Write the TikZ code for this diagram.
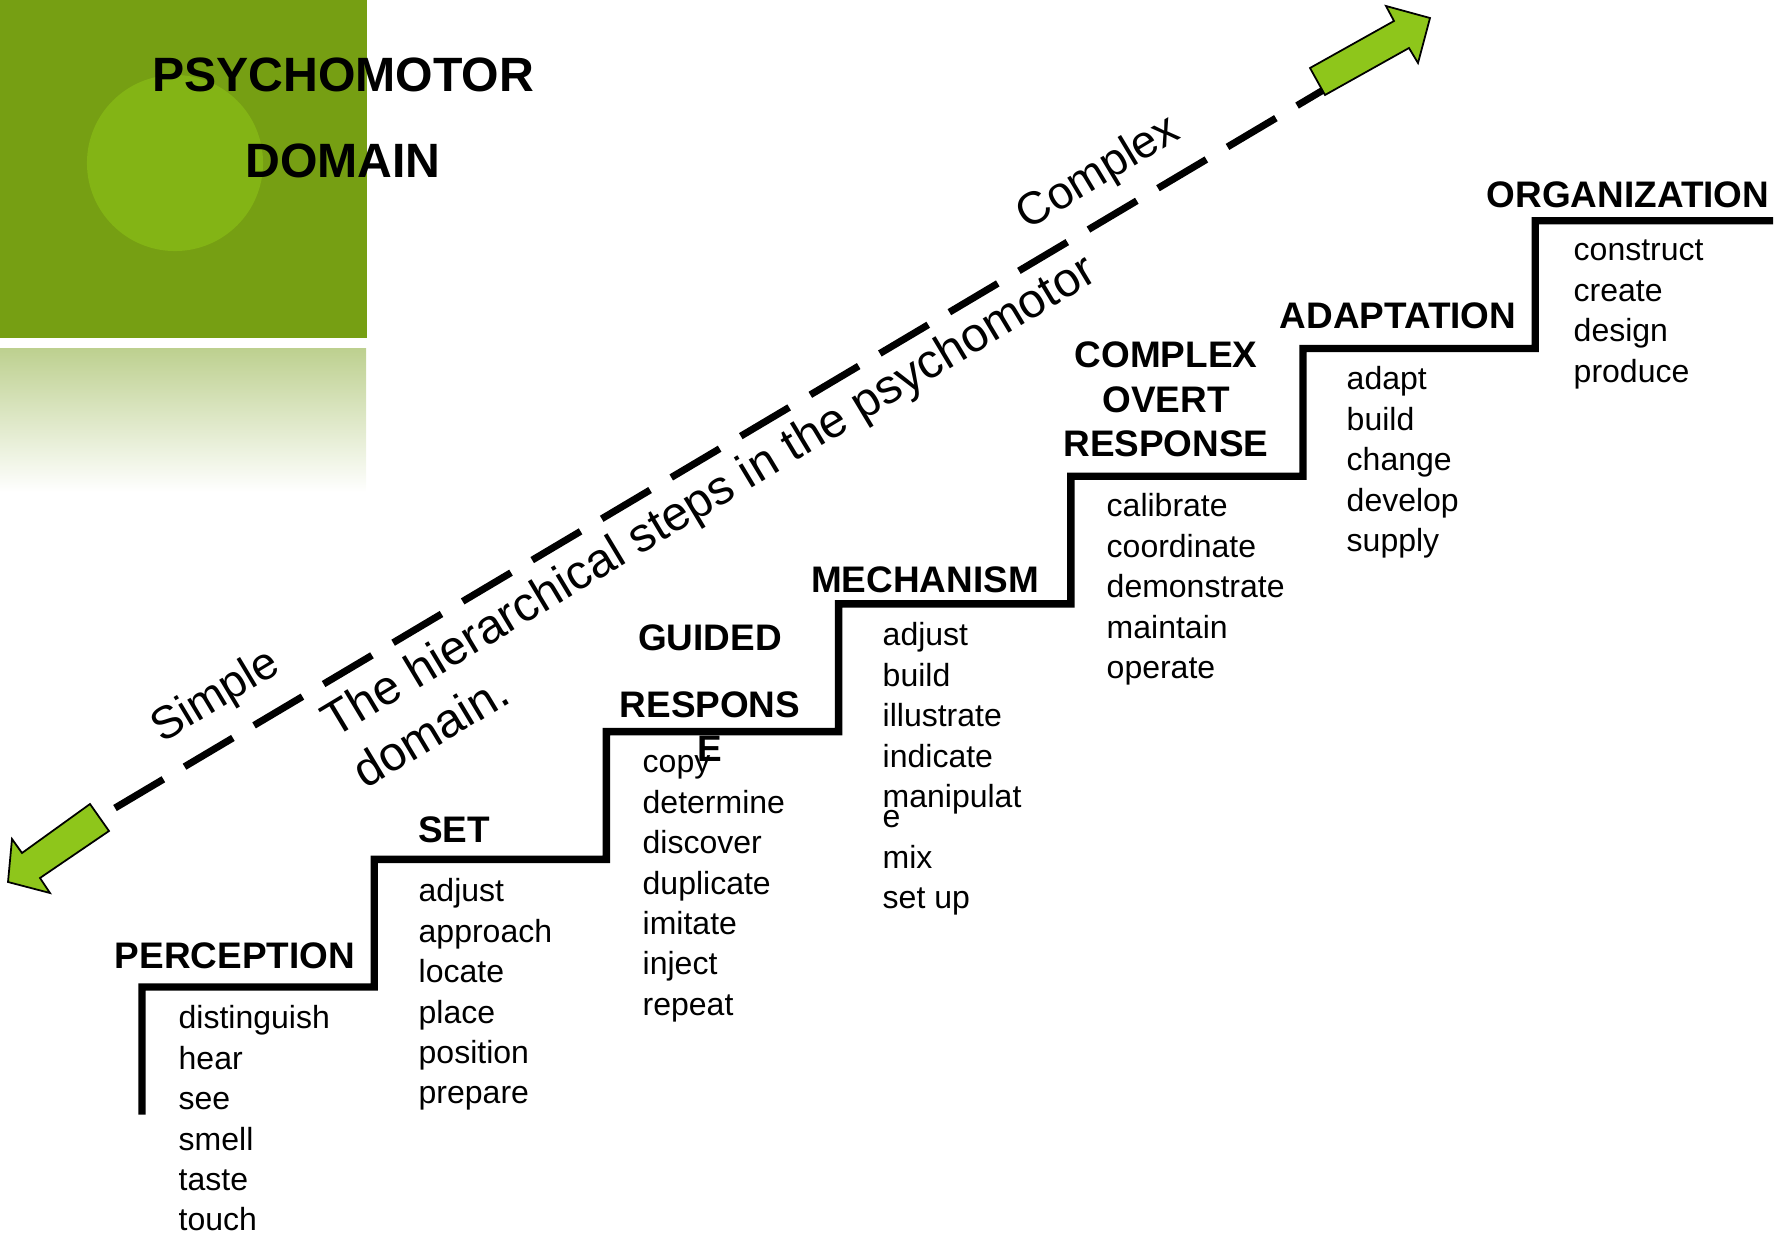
\documentclass[tikz,border=0pt]{standalone}
\usepackage{fontspec}
\setmainfont{Liberation Sans}
\usepackage{tikz}
\usetikzlibrary{calc,positioning}

\definecolor{titleGreen}{RGB}{118,159,19}
\definecolor{circleGreen}{RGB}{131,180,21}
\definecolor{fadeGreen}{RGB}{189,208,143}
\definecolor{arrowGreen}{RGB}{142,198,27}

\begin{document}
\begin{tikzpicture}[x=0.01cm, y=-0.01cm,
        stair/.style={line width=2.1pt},
        dashLine/.style={line width=2pt, dash pattern=on 16pt off 7pt},
        fatArrow/.style={fill=arrowGreen, draw=black, line width=0.5pt, line join=miter},
        heading/.style={font=\bfseries\fontsize{10.5}{12.6}\selectfont, inner sep=0pt, align=center},
        words/.style={font=\fontsize{9.1}{11.5}\selectfont, inner sep=0pt, align=left, anchor=north west, yshift=8.05pt},
        slope/.style={font=\fontsize{13}{16}\selectfont, inner sep=0pt, rotate=31}]

        \useasboundingbox (0,0) rectangle (1787,1239);

        % Title block
        \fill[titleGreen] (0,0) rectangle (367,338);
        \fill[circleGreen] (175,163) circle (0.88cm);
        \shade[top color=fadeGreen, bottom color=white] (0,348) rectangle (366,492);

        \node[font=\bfseries\fontsize{13.7}{16}\selectfont, inner sep=0pt, anchor=base] (titleTop) at (343,91) {PSYCHOMOTOR};
        \node[font=\bfseries\fontsize{13.7}{16}\selectfont, inner sep=0pt, anchor=base] (titleBottom) at (343,177) {DOMAIN};



        % Dashed line from simple to complex
        \coordinate (DASH_START) at (115,808);
        \coordinate (DASH_END) at (1330,86);
        \draw[dashLine] (DASH_START) -- (DASH_END);

        % Arrow heads at both ends
        \draw[fatArrow] (8,882) -- (12,839) -- (22,853) -- (90,804) -- (109,831) -- (40,878) -- (50,893) -- cycle;
        \draw[fatArrow] (1310,68) -- (1394,21) -- (1386,6) -- (1430,18) -- (1418,63) -- (1409,48) -- (1325,95) -- cycle;

        \node[slope] (simpleText) at (216,697) {Simple};
        \node[slope] (complexText) at (1099,174) {Complex};

        \node[slope, font=\fontsize{13.7}{17}\selectfont, anchor=base west] (stepsLine) at (334,739) {The hierarchical steps in the psychomotor};
        \node[slope, font=\fontsize{13.7}{17}\selectfont, anchor=base west] (domainLine) at (365,790) {domain.};



        % Draw the staircase
        \coordinate (STAIR_START) at (142,1114.7);
        \draw[stair] (STAIR_START)
            \foreach \i in {1,...,6} { -- ++(0,-127.7) -- ++(232.2,0) }
            -- ++(0,-127.7) -- (1773,220.8);



        % Step headings
        \node[heading, anchor=base] (perception) at (235,968) {PERCEPTION};
        \node[heading, anchor=base] (set) at (454,842) {SET};
        \node[heading, anchor=north, yshift=8.82pt] (guided) at (710,650) {\strut GUIDED\\[6.4pt]RESPONS\\E};
        \node[heading, anchor=base] (mechanism) at (925,592) {MECHANISM};
        \node[heading, anchor=north, yshift=8.82pt] (complexOvert) at (1166,367) {\strut COMPLEX\\OVERT\\RESPONSE};
        \node[heading, anchor=base] (adaptation) at (1398,328) {ADAPTATION};
        \node[heading, anchor=base] (organization) at (1628,207) {ORGANIZATION};

        % Verbs under each step
        \node[words] (perceptionList) at (178,1028) {\strut distinguish\\hear\\see\\smell\\taste\\touch};
        \node[words] (setList) at (418,901) {\strut adjust\\approach\\locate\\place\\position\\prepare};
        \node[words] (guidedList) at (642,772) {\strut copy\\determine\\discover\\duplicate\\imitate\\inject\\repeat};
        \node[words] (mechanismList) at (882,645) {\strut adjust\\build\\illustrate\\indicate\\manipulat\\[-5.7pt]e\\mix\\set up};
        \node[words] (complexList) at (1106,516) {\strut calibrate\\coordinate\\demonstrate\\maintain\\operate};
        \node[words] (adaptationList) at (1346,389) {\strut adapt\\build\\change\\develop\\supply};
        \node[words] (organizationList) at (1573,260) {\strut construct\\create\\design\\produce};

\end{tikzpicture}
\end{document}
